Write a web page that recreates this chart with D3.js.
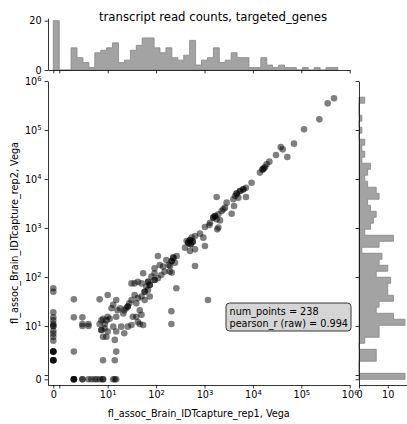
<!DOCTYPE html>
<html><head><meta charset="utf-8">
<script src="https://cdn.jsdelivr.net/npm/d3@7"></script>
<style>
body{margin:0;background:#fff;}
svg text{font-family:"DejaVu Sans",sans-serif;}
</style></head><body>
<svg id="c" width="407" height="424"></svg>
<script>
// ---------- data ----------
const title = "transcript read counts, targeted_genes";
const xLabel = "fl_assoc_Brain_IDTcapture_rep1, Vega";
const yLabel = "fl_assoc_Brain_IDTcapture_rep2, Vega";
const statLines = ["num_points = 238", "pearson_r (raw) = 0.994"];
const axisTicks = [0, 1, 10, 100, 1e3, 1e4, 1e5, 1e6];
const topHistTicks = [0, 20];
const rightHistTicks = [0, 10];
const histBinWidth = 0.1225; // bin width in transformed (decade) units
const topHistCounts = [20,0,0,9,5,3,1,7,8,9,11,3,4,8,10,13,13,9,7,9,5,4,6,12,2,4,5,9,3,4,7,5,5,1,1,5,2,1,2,1,1,0,1,0,1,0,1,1];
const rightHistCounts = [16,0,0,6,6,0,2,7,7,16,12,6,7,12,10,10,11,6,10,7,8,1,7,12,2,4,5,6,4,3,7,6,3,2,3,4,1,2,1,2,0,1,0,1,0,0,2];
// points with x = 0 (their y values)
const zeroColumnY = [59,50,19,15,13,11,10,10,8,7,6,5,3,3,3,3,2,2,2,2];
// points with y = 0 (their x values)
const zeroRowX = [2,2,2,2,3,3,4,4.6,5.4,6,7,8,8,13,14,15];
// remaining points [x, y]
const pairedPoints = [
 [2,35],[2,15],[3,15],[3,11],[3,10],[4,11],[4,10],[2,3],[15,3],[8,2],[14,2],
 [1180,34],[182,176],[163,222],[139,163],[119,176],[109,269],[93,150],[150,129],[191,129],[128,110],
 [109,94],[93,87],[80,102],[68,80],[63,64],[74,69],[68,54],[58,50],[54,119],[50,74],[42,80],[36,74],
 [31,74],[74,40],[58,34],[50,40],[42,37],[39,29],[36,43],[31,34],[28,29],[26,25],[24,23],[22,21],
 [21,18],[18,23],[16,21],[13,27],[12,23],[15,34],[10,43],[6.8,35],[7.4,13],[8,14],[9.4,13],[10,15.5],
 [11,14],[8.7,11],[6.8,11],[7.4,8.3],[8.7,9],[8,6],[9.4,6],[10,7.7],[13,9.7],[15,15.5],[15,7.7],
 [14,5.2],[19,9.7],[22,7.1],[26,9.7],[31,10.5],[33,15.5],[39,15.5],[46,21],[50,17],[46,11],[54,10.5],
 [42,12],[262,59],[207,20],[207,11],[93,119],
 [68,80],[58,50],[74,69],[7.4,8.3],[26,25],[93,87],
 [4.74e5,4.43e5],[3.51e5,3.5e5],[2.36e5,1.65e5],[1.14e5,1.03e5],[7.06e4,5.26e4],[5.15e4,2.81e4],
 [4.12e4,4.03e4],[3.75e4,4.5e4],[3.0e4,3.09e4],[2.19e4,2.26e4],[1.92e4,1.99e4],[1.78e4,1.76e4],
 [1.59e4,1.57e4],[1.4e4,1.35e4],[1.7e4,1.65e4],[9.4e3,8.4e3],[7.2e3,6.65e3],[6.34e3,6.15e3],
 [5.41e3,5.69e3],[4.62e3,5.02e3],[4.27e3,4.5e3],[5.0e3,4.16e3],[7.2e3,4.29e3],[3.94e3,3.85e3],
 [1.78e3,4.29e3],[2.87e3,3.29e3],[2.65e3,2.6e3],[2.45e3,2.4e3],[2.26e3,2.22e3],[4.07e3,2.81e3],
 [3.64e3,1.96e3],[1.93e3,1.9e3],[1.65e3,1.76e3],[1.52e3,1.63e3],[1.78e3,1.5e3],[2.09e3,1.43e3],
 [1.3e3,1.28e3],[1.26e3,1.15e3],[1.02e3,1.05e3],[1.93e3,1.02e3],[1.84e3,939],[807,766],[946,635],
 [637,687],[543,635],[501,560],[463,502],[570,526],[518,464],[428,543],[1.02e3,429],[637,367],
 [396,397],[501,339],[266,268],[227,248],[210,212],[246,196],[194,168],[637,168],[210,123],
 [501,560],[463,502],[518,464],[570,526],[1.52e3,1.63e3],[1.65e3,1.76e3],[5.41e3,5.69e3],
 [4.62e3,5.02e3],[6.34e3,6.15e3],[1.59e4,1.57e4],[227,248],[210,212]
];

// ---------- transforms & scales ----------
const linX = 0.124, linY = 0.088;
const tX = v => v < 1 ? v * linX : linX + Math.log10(v);
const tY = v => v < 1 ? v * linY : linY + Math.log10(v);

const L = {mainL:48, mainR:349.7, mainT:81, mainB:385, topT:18.2, topB:70, rightL:359, rightR:407};
const xs = d3.scaleLinear().domain([-0.1095, tX(1e6)]).range([L.mainL, L.mainR]);
const ys = d3.scaleLinear().domain([-0.116, tY(1e6)]).range([L.mainB, L.mainT]);
const hy = d3.scaleLinear().domain([0, 21]).range([L.topB, L.topT]);
const hx = d3.scaleLinear().domain([0, 16.7]).range([L.rightL, L.rightR]);

const svg = d3.select("#c");
const FS = 9.7;

// ---------- histograms ----------
function topPath(counts){
  const p = d3.path();
  p.moveTo(xs(0), hy(0));
  counts.forEach((c,i)=>{ p.lineTo(xs(i*histBinWidth), hy(c)); p.lineTo(xs((i+1)*histBinWidth), hy(c)); });
  p.lineTo(xs(counts.length*histBinWidth), hy(0));
  p.closePath();
  return p.toString();
}
function rightPath(counts){
  const p = d3.path();
  p.moveTo(hx(0), ys(0));
  counts.forEach((c,i)=>{ p.lineTo(hx(c), ys(i*histBinWidth)); p.lineTo(hx(c), ys((i+1)*histBinWidth)); });
  p.lineTo(hx(0), ys(counts.length*histBinWidth));
  p.closePath();
  return p.toString();
}
svg.append("path").attr("d", topPath(topHistCounts))
  .attr("fill","#a3a3a3").attr("stroke","#858585").attr("stroke-width",0.8);
svg.append("path").attr("d", rightPath(rightHistCounts))
  .attr("fill","#a3a3a3").attr("stroke","#858585").attr("stroke-width",0.8);

// ---------- scatter ----------
const allPts = [
  ...zeroColumnY.map(y=>[0,y]),
  ...zeroRowX.map(x=>[x,0]),
  ...pairedPoints
];
svg.append("g").selectAll("circle").data(allPts).join("circle")
  .attr("cx", d=>xs(tX(d[0]))).attr("cy", d=>ys(tY(d[1]))).attr("r",3.3)
  .attr("fill","#000").attr("fill-opacity",0.5);

// ---------- axes ----------
function labelFor(v){ return v===0 ? "0" : (v===1 ? "" : "10|" + Math.round(Math.log10(v))); }
function styleAxis(g){
  g.attr("font-family","DejaVu Sans").attr("font-size",FS);
  g.selectAll("path.domain").attr("stroke","#000").attr("stroke-width",0.8);
  g.selectAll(".tick line").attr("stroke","#000").attr("stroke-width",0.8);
}
function supLabels(g){
  g.selectAll(".tick text").each(function(d,i){
    const s = labelFor(axisTicks[i]);
    const t = d3.select(this); t.text(null);
    if (s.includes("|")){
      const [b,e] = s.split("|");
      t.append("tspan").text(b);
      t.append("tspan").text(e).attr("font-size", FS*0.7).attr("dy","-0.55em");
    } else t.text(s);
  });
}
// main x
const gx = svg.append("g").attr("transform",`translate(0,${L.mainB})`)
  .call(d3.axisBottom(xs).tickValues(axisTicks.map(tX)).tickSize(3.4).tickPadding(3.2).tickSizeOuter(0));
styleAxis(gx); supLabels(gx);
// main y
const gy = svg.append("g").attr("transform",`translate(${L.mainL},0)`)
  .call(d3.axisLeft(ys).tickValues(axisTicks.map(tY)).tickSize(3.4).tickPadding(3).tickSizeOuter(0));
styleAxis(gy); supLabels(gy);
// top hist axes
const gtx = svg.append("g").attr("transform",`translate(0,${L.topB})`)
  .call(d3.axisBottom(xs).tickValues(axisTicks.map(tX)).tickSize(3.4).tickFormat("").tickSizeOuter(0));
styleAxis(gtx);
const gty = svg.append("g").attr("transform",`translate(${L.mainL},0)`)
  .call(d3.axisLeft(hy).tickValues(topHistTicks).tickSize(3.4).tickPadding(3).tickSizeOuter(0));
styleAxis(gty);
// right hist axes
const gry = svg.append("g").attr("transform",`translate(${L.rightL},0)`)
  .call(d3.axisLeft(ys).tickValues(axisTicks.map(tY)).tickSize(3.4).tickFormat("").tickSizeOuter(0));
styleAxis(gry);
const grx = svg.append("g").attr("transform",`translate(0,${L.mainB})`)
  .call(d3.axisBottom(hx).tickValues(rightHistTicks).tickSize(3.4).tickPadding(3.2).tickSizeOuter(0));
styleAxis(grx);

// ---------- texts ----------
svg.append("text").attr("x",213).attr("y",20.5).attr("text-anchor","middle")
  .attr("font-size",11.7).text(title);
svg.append("text").attr("x",(L.mainL+L.mainR)/2).attr("y",417).attr("text-anchor","middle")
  .attr("font-size",FS).text(xLabel);
svg.append("text").attr("transform",`translate(17.5,${(L.mainT+L.mainB)/2}) rotate(-90)`)
  .attr("text-anchor","middle").attr("font-size",FS).text(yLabel);

// ---------- stats box ----------
svg.append("rect").attr("x",226).attr("y",303).attr("width",125).attr("height",28).attr("rx",3.5)
  .attr("fill","#d5d5d5").attr("stroke","#222").attr("stroke-width",0.9);
statLines.forEach((s,i)=>{
  svg.append("text").attr("x",229.5).attr("y",314.5+i*12).attr("font-size",FS).text(s);
});
</script></body></html>
